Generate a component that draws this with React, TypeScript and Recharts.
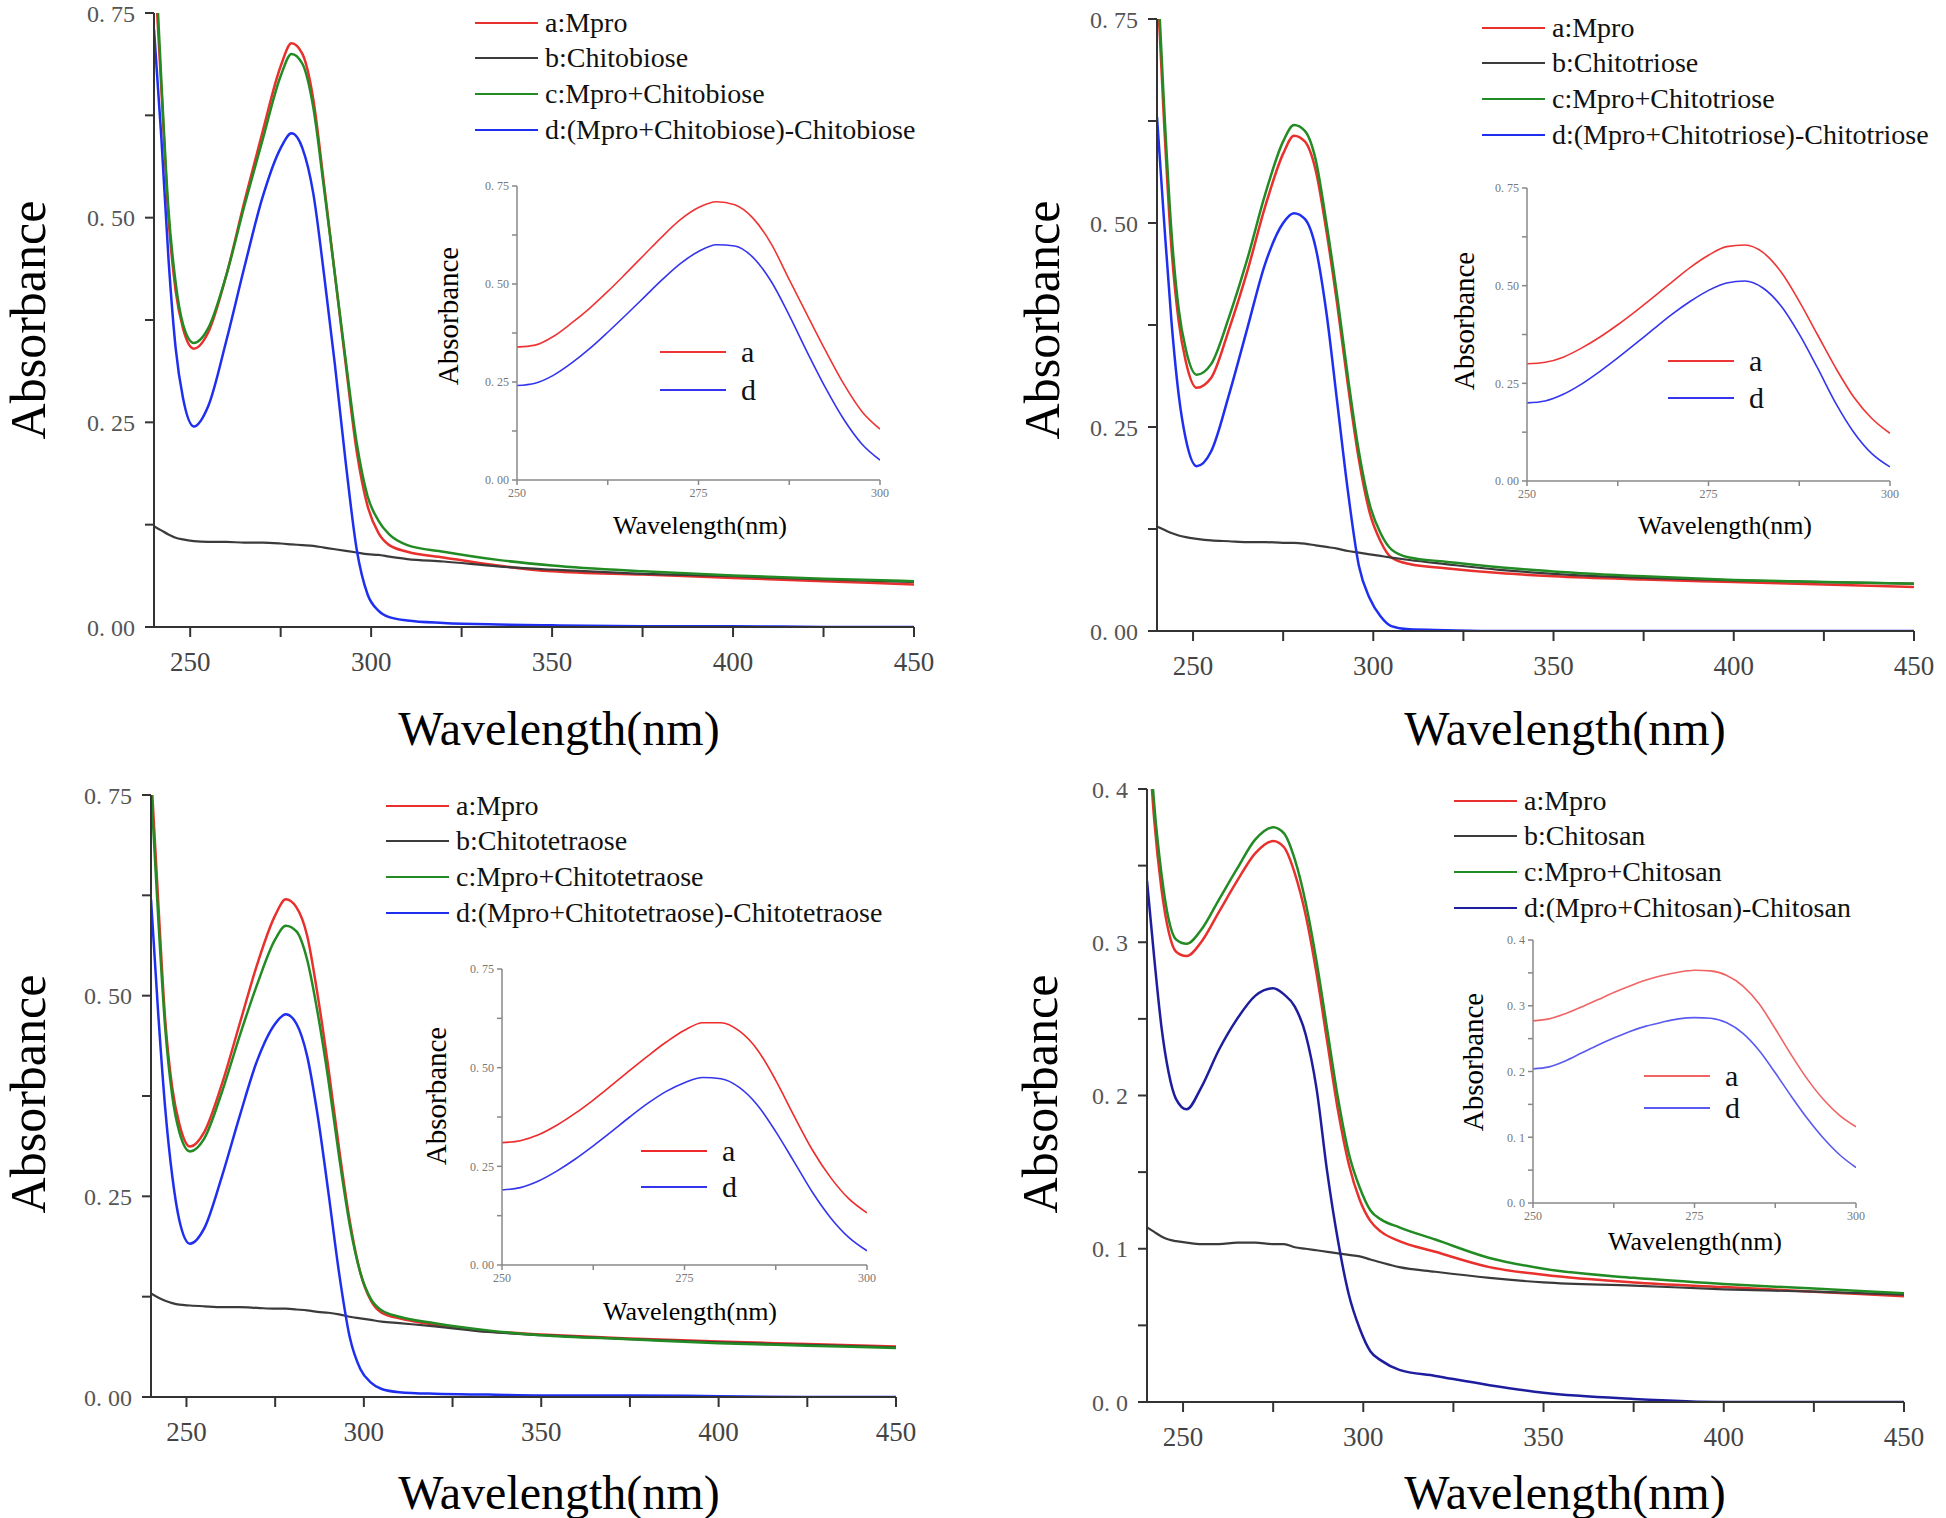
import React from 'react';
import { LineChart, Line, XAxis, YAxis, Legend } from 'recharts';

// wavelength grid (nm) shared by the main spectra
const wavelengths = [240, 242, 244, 246, 248, 251, 255, 260, 265, 270, 275, 278, 281, 284, 287, 290, 293, 296, 299, 302, 305, 310, 320, 335, 350, 375, 400, 425, 450];
// grid for the zoomed insets (250-300 nm)
const insetWavelengths = [250, 252.5, 255, 257.5, 260, 262.5, 265, 267.5, 270, 272.5, 275, 277.5, 280, 282.5, 285, 287.5, 290, 292.5, 295, 297.5, 300];

// Chitobiose
const bioseA = [0.82, 0.66, 0.5, 0.41, 0.365, 0.34, 0.36, 0.43, 0.52, 0.605, 0.685, 0.713, 0.7, 0.645, 0.54, 0.43, 0.32, 0.215, 0.148, 0.115, 0.1, 0.092, 0.085, 0.075, 0.068, 0.064, 0.06, 0.056, 0.052];
const bioseB = [0.123, 0.118, 0.113, 0.109, 0.107, 0.105, 0.104, 0.104, 0.103, 0.103, 0.102, 0.101, 0.1, 0.099, 0.097, 0.095, 0.093, 0.091, 0.089, 0.088, 0.086, 0.083, 0.08, 0.074, 0.07, 0.065, 0.062, 0.058, 0.055];
const bioseC = [0.85, 0.67, 0.51, 0.42, 0.37, 0.347, 0.365, 0.43, 0.515, 0.595, 0.673, 0.7, 0.688, 0.635, 0.535, 0.43, 0.325, 0.225, 0.16, 0.13, 0.113, 0.1, 0.092, 0.082, 0.075, 0.068, 0.063, 0.059, 0.056];
const bioseD = [0.73, 0.6, 0.45, 0.34, 0.28, 0.245, 0.27, 0.35, 0.44, 0.525, 0.585, 0.603, 0.585, 0.53, 0.43, 0.32, 0.2, 0.095, 0.04, 0.02, 0.012, 0.008, 0.005, 0.003, 0.002, 0.001, 0.001, 0, 0];
const bioseInsetA = [0.339, 0.344, 0.366, 0.4, 0.438, 0.481, 0.527, 0.574, 0.621, 0.664, 0.695, 0.71, 0.702, 0.668, 0.603, 0.511, 0.42, 0.33, 0.245, 0.175, 0.13];
const bioseInsetD = [0.241, 0.247, 0.267, 0.298, 0.335, 0.377, 0.421, 0.466, 0.511, 0.552, 0.583, 0.6, 0.597, 0.568, 0.507, 0.42, 0.325, 0.235, 0.155, 0.092, 0.051];

// Chitotriose
const trioseA = [0.8, 0.62, 0.47, 0.38, 0.33, 0.298, 0.31, 0.37, 0.44, 0.52, 0.585, 0.607, 0.6, 0.565, 0.49, 0.4, 0.3, 0.21, 0.145, 0.11, 0.09, 0.082, 0.077, 0.071, 0.067, 0.063, 0.06, 0.057, 0.054];
const trioseB = [0.128, 0.124, 0.12, 0.117, 0.115, 0.113, 0.111, 0.11, 0.109, 0.109, 0.108, 0.108, 0.107, 0.105, 0.103, 0.101, 0.098, 0.096, 0.094, 0.092, 0.09, 0.087, 0.082, 0.075, 0.07, 0.065, 0.062, 0.06, 0.058];
const trioseC = [0.82, 0.64, 0.49, 0.395, 0.345, 0.314, 0.327, 0.385, 0.455, 0.535, 0.6, 0.62, 0.613, 0.578, 0.5, 0.41, 0.31, 0.22, 0.155, 0.12, 0.1, 0.09, 0.085, 0.078, 0.073, 0.067, 0.0625, 0.06, 0.058];
const trioseD = [0.63, 0.5, 0.38, 0.29, 0.235, 0.202, 0.22, 0.29, 0.37, 0.45, 0.5, 0.512, 0.505, 0.47, 0.39, 0.28, 0.17, 0.08, 0.04, 0.018, 0.006, 0.002, 0.001, 0, 0, 0, 0, 0, 0];
const trioseInsetA = [0.3, 0.304, 0.317, 0.34, 0.368, 0.4, 0.435, 0.472, 0.51, 0.547, 0.578, 0.6, 0.604, 0.585, 0.535, 0.46, 0.375, 0.29, 0.215, 0.16, 0.122];
const trioseInsetD = [0.2, 0.205, 0.222, 0.248, 0.28, 0.315, 0.352, 0.39, 0.427, 0.46, 0.488, 0.507, 0.512, 0.494, 0.448, 0.376, 0.29, 0.2, 0.125, 0.07, 0.036];

// Chitotetraose
const tetraA = [0.78, 0.62, 0.47, 0.385, 0.34, 0.312, 0.33, 0.39, 0.465, 0.54, 0.6, 0.62, 0.61, 0.575, 0.5, 0.41, 0.31, 0.22, 0.155, 0.12, 0.105, 0.098, 0.09, 0.082, 0.078, 0.073, 0.069, 0.066, 0.063];
const tetraB = [0.129, 0.124, 0.12, 0.117, 0.115, 0.114, 0.113, 0.112, 0.112, 0.111, 0.11, 0.11, 0.109, 0.108, 0.106, 0.105, 0.103, 0.1, 0.098, 0.096, 0.094, 0.092, 0.088, 0.081, 0.077, 0.072, 0.068, 0.065, 0.062];
const tetraC = [0.76, 0.6, 0.46, 0.375, 0.33, 0.306, 0.322, 0.38, 0.45, 0.515, 0.57, 0.587, 0.58, 0.545, 0.478, 0.395, 0.3, 0.215, 0.155, 0.122, 0.108, 0.1, 0.092, 0.083, 0.077, 0.072, 0.067, 0.064, 0.061];
const tetraD = [0.62, 0.48, 0.36, 0.275, 0.22, 0.191, 0.21, 0.275, 0.35, 0.42, 0.465, 0.477, 0.465, 0.425, 0.35, 0.255, 0.155, 0.075, 0.035, 0.018, 0.01, 0.006, 0.004, 0.003, 0.002, 0.002, 0.001, 0, 0];
const tetraInsetA = [0.31, 0.315, 0.33, 0.354, 0.384, 0.418, 0.455, 0.493, 0.53, 0.565, 0.595, 0.614, 0.614, 0.593, 0.545, 0.468, 0.378, 0.292, 0.222, 0.168, 0.132];
const tetraInsetD = [0.19, 0.196, 0.213, 0.238, 0.268, 0.302, 0.338, 0.375, 0.41, 0.44, 0.462, 0.475, 0.472, 0.45, 0.405, 0.338, 0.262, 0.185, 0.12, 0.07, 0.036];

// Chitosan
const chitosanA = [0.45, 0.38, 0.335, 0.307, 0.294, 0.291, 0.3, 0.32, 0.34, 0.358, 0.366, 0.362, 0.345, 0.318, 0.28, 0.235, 0.19, 0.155, 0.132, 0.118, 0.111, 0.105, 0.098, 0.088, 0.083, 0.078, 0.075, 0.072, 0.069];
const chitosanB = [0.114, 0.111, 0.108, 0.106, 0.105, 0.104, 0.103, 0.103, 0.104, 0.104, 0.103, 0.103, 0.101, 0.1, 0.099, 0.098, 0.097, 0.096, 0.095, 0.093, 0.091, 0.088, 0.085, 0.081, 0.078, 0.076, 0.0735, 0.072, 0.07];
const chitosanC = [0.46, 0.39, 0.345, 0.315, 0.302, 0.299, 0.308, 0.328, 0.348, 0.367, 0.375, 0.371, 0.354, 0.326, 0.288, 0.243, 0.198, 0.162, 0.14, 0.125, 0.119, 0.114, 0.106, 0.094, 0.087, 0.081, 0.077, 0.074, 0.071];
const chitosanD = [0.34, 0.29, 0.245, 0.215, 0.198, 0.191, 0.205, 0.23, 0.25, 0.265, 0.27, 0.266, 0.258, 0.24, 0.205, 0.15, 0.105, 0.07, 0.048, 0.033, 0.027, 0.021, 0.017, 0.011, 0.006, 0.002, 0, 0, 0];
const chitosanInsetA = [0.277, 0.28, 0.288, 0.298, 0.309, 0.32, 0.33, 0.339, 0.346, 0.351, 0.354, 0.353, 0.346, 0.33, 0.303, 0.265, 0.225, 0.188, 0.157, 0.133, 0.116];
const chitosanInsetD = [0.204, 0.207, 0.216, 0.228, 0.24, 0.251, 0.261, 0.269, 0.275, 0.28, 0.282, 0.281, 0.274, 0.258, 0.232, 0.198, 0.162, 0.128, 0.098, 0.073, 0.054];

const sugars = ['Chitobiose', 'Chitotriose', 'Chitotetraose', 'Chitosan'];

// ticks
const mainXTicks = [250, 275, 300, 325, 350, 375, 400, 425, 450];
const insetXTicks = [250, 262.5, 275, 287.5, 300];
const yTicks075 = [0, 0.125, 0.25, 0.375, 0.5, 0.625, 0.75];
const yTicks04 = [0, 0.05, 0.1, 0.15, 0.2, 0.25, 0.3, 0.35, 0.4];

const SERIF = '"Liberation Serif", "Times New Roman", serif';

const fmtX = (v: number) => (v % 50 === 0 ? String(v) : '');
const fmtInsetX = (v: number) => (v % 25 === 0 ? String(v) : '');
const fmtY2 = (v: number) => (Math.abs(v * 4 - Math.round(v * 4)) < 1e-6 ? v.toFixed(2).replace('.', '. ') : '');
const fmtY1 = (v: number) => (Math.abs(v * 10 - Math.round(v * 10)) < 1e-6 ? v.toFixed(1).replace('.', '. ') : '');

const makeRows = (a: number[], b: number[], c: number[], d: number[]) =>
  wavelengths.map((w, i) => ({ w, a: a[i], b: b[i], c: c[i], d: d[i] }));
const makeInsetRows = (a: number[], d: number[]) => insetWavelengths.map((w, i) => ({ w, a: a[i], d: d[i] }));

const legendNames = (s: string) => ['a:Mpro', `b:${s}`, `c:Mpro+${s}`, `d:(Mpro+${s})-${s}`];

type Box = { x0: number; x1: number; y0: number; y1: number };

const panels = [
  {
    rows: makeRows(bioseA, bioseB, bioseC, bioseD), insetRows: makeInsetRows(bioseInsetA, bioseInsetD),
    sugar: sugars[0], yMax: 0.75, yTicks: yTicks075, fmtY: fmtY2,
    blue: '#1f2ff0', insetRed: '#ee3535', insetBlue: '#3535ee',
    plot: { x0: 154, x1: 914, y0: 13, y1: 627 }, legend: { x: 475, y: 5 },
    ytitle: { x: 28, y: 320 }, xtitle: { x: 559, y: 729 },
    inset: { x0: 517, x1: 880, y0: 186, y1: 480 }, insetLegend: { x: 660, y: 333, row: 38 },
    insetY: { x: 448, y: 316 }, insetX: { x: 700, y: 526 },
  },
  {
    rows: makeRows(trioseA, trioseB, trioseC, trioseD), insetRows: makeInsetRows(trioseInsetA, trioseInsetD),
    sugar: sugars[1], yMax: 0.75, yTicks: yTicks075, fmtY: fmtY2,
    blue: '#1f2ff0', insetRed: '#ee3535', insetBlue: '#3535ee',
    plot: { x0: 1157, x1: 1914, y0: 19, y1: 631 }, legend: { x: 1482, y: 10 },
    ytitle: { x: 1042, y: 320 }, xtitle: { x: 1565, y: 729 },
    inset: { x0: 1527, x1: 1890, y0: 188, y1: 481 }, insetLegend: { x: 1668, y: 342, row: 37 },
    insetY: { x: 1464, y: 321 }, insetX: { x: 1725, y: 526 },
  },
  {
    rows: makeRows(tetraA, tetraB, tetraC, tetraD), insetRows: makeInsetRows(tetraInsetA, tetraInsetD),
    sugar: sugars[2], yMax: 0.75, yTicks: yTicks075, fmtY: fmtY2,
    blue: '#1f2ff0', insetRed: '#ee2a2a', insetBlue: '#3535ee',
    plot: { x0: 151, x1: 896, y0: 795, y1: 1397 }, legend: { x: 386, y: 788 },
    ytitle: { x: 28, y: 1094 }, xtitle: { x: 559, y: 1493 },
    inset: { x0: 502, x1: 867, y0: 969, y1: 1265 }, insetLegend: { x: 641, y: 1133, row: 36 },
    insetY: { x: 436, y: 1096 }, insetX: { x: 690, y: 1312 },
  },
  {
    rows: makeRows(chitosanA, chitosanB, chitosanC, chitosanD), insetRows: makeInsetRows(chitosanInsetA, chitosanInsetD),
    sugar: sugars[3], yMax: 0.4, yTicks: yTicks04, fmtY: fmtY1,
    blue: '#1d1d9e', insetRed: '#f06464', insetBlue: '#5a5af0',
    plot: { x0: 1147, x1: 1904, y0: 789, y1: 1402 }, legend: { x: 1454, y: 783 },
    ytitle: { x: 1040, y: 1094 }, xtitle: { x: 1565, y: 1493 },
    inset: { x0: 1533, x1: 1856, y0: 940, y1: 1203 }, insetLegend: { x: 1644, y: 1060, row: 32 },
    insetY: { x: 1473, y: 1062 }, insetX: { x: 1695, y: 1242 },
  },
];

const RED = '#e8302c';
const BLACK = '#3b3b3b';
const GREEN = '#238b23';

const lineLegend = (rowH: number, lineW: number, gap: number, fontSize: number) => (props: any) => (
  <div style={{ fontFamily: SERIF, fontSize, color: '#111', whiteSpace: 'nowrap' }}>
    {(props.payload || []).map((e: any) => (
      <div key={e.value} style={{ display: 'flex', alignItems: 'center', height: rowH }}>
        <span style={{ display: 'inline-block', width: lineW, borderTop: `2.5px solid ${e.color}` }} />
        <span style={{ marginLeft: gap, lineHeight: 1 }}>{e.value}</span>
      </div>
    ))}
  </div>
);

const Title = ({ x, y, size, text, rotate }: { x: number; y: number; size: number; text: string; rotate?: boolean }) => (
  <div
    style={{
      position: 'absolute', left: x, top: y, fontFamily: SERIF, fontSize: size, lineHeight: 1, color: '#000',
      whiteSpace: 'nowrap', transform: `translate(-50%, -50%)${rotate ? ' rotate(-90deg)' : ''}`,
    }}
  >
    {text}
  </div>
);

function MainChart({ p }: { p: (typeof panels)[number] }) {
  const plot: Box = p.plot;
  const yw = 90, mt = 25, mr = 30, xh = 60;
  const left = plot.x0 - yw;
  const top = plot.y0 - mt;
  const width = plot.x1 - plot.x0 + yw + mr;
  const height = plot.y1 - plot.y0 + mt + xh;
  const names = legendNames(p.sugar);
  return (
    <div style={{ position: 'absolute', left, top }}>
      <LineChart width={width} height={height} data={p.rows} margin={{ top: mt, right: mr, left: 0, bottom: 0 }}>
        <XAxis
          dataKey="w" type="number" domain={[240, 450]} ticks={mainXTicks} interval={0} tickFormatter={fmtX}
          allowDataOverflow height={xh} stroke="#333" strokeWidth={2} tickSize={10} tickMargin={15}
          tick={{ fill: '#444', fontSize: 27, fontFamily: SERIF }}
        />
        <YAxis
          type="number" domain={[0, p.yMax]} ticks={p.yTicks} interval={0} tickFormatter={p.fmtY}
          allowDataOverflow width={yw} stroke="#333" strokeWidth={2} tickSize={9} tickMargin={10}
          tick={{ fill: '#555', fontSize: 24, fontFamily: SERIF }}
        />
        <Legend
          layout="vertical" align="center" verticalAlign="middle"
          wrapperStyle={{ left: p.legend.x - left, top: p.legend.y - top, width: 520 }}
          content={lineLegend(35.6, 63, 7, 28)}
        />
        <Line type="monotone" dataKey="a" name={names[0]} stroke={RED} strokeWidth={2.5} dot={false} isAnimationActive={false} />
        <Line type="monotone" dataKey="b" name={names[1]} stroke={BLACK} strokeWidth={2.2} dot={false} isAnimationActive={false} />
        <Line type="monotone" dataKey="c" name={names[2]} stroke={GREEN} strokeWidth={2.5} dot={false} isAnimationActive={false} />
        <Line type="monotone" dataKey="d" name={names[3]} stroke={p.blue} strokeWidth={2.5} dot={false} isAnimationActive={false} />
      </LineChart>
    </div>
  );
}

function InsetChart({ p }: { p: (typeof panels)[number] }) {
  const plot: Box = p.inset;
  const yw = 45, mt = 10, mr = 14, xh = 30;
  const left = plot.x0 - yw;
  const top = plot.y0 - mt;
  const width = plot.x1 - plot.x0 + yw + mr;
  const height = plot.y1 - plot.y0 + mt + xh;
  return (
    <div style={{ position: 'absolute', left, top }}>
      <LineChart width={width} height={height} data={p.insetRows} margin={{ top: mt, right: mr, left: 0, bottom: 0 }}>
        <XAxis
          dataKey="w" type="number" domain={[250, 300]} ticks={insetXTicks} interval={0} tickFormatter={fmtInsetX}
          allowDataOverflow height={xh} stroke="#888" strokeWidth={1.5} tickSize={5} tickMargin={3}
          tick={{ fill: '#777', fontSize: 12, fontFamily: SERIF }}
        />
        <YAxis
          type="number" domain={[0, p.yMax]} ticks={p.yTicks} interval={0} tickFormatter={p.fmtY}
          allowDataOverflow width={yw} stroke="#888" strokeWidth={1.5} tickSize={5} tickMargin={3}
          tick={{ fill: '#777', fontSize: 12, fontFamily: SERIF }}
        />
        <Legend
          layout="vertical" align="center" verticalAlign="middle"
          wrapperStyle={{ left: p.insetLegend.x - left, top: p.insetLegend.y - top, width: 120 }}
          content={lineLegend(p.insetLegend.row, 66, 15, 30)}
        />
        <Line type="monotone" dataKey="a" name="a" stroke={p.insetRed} strokeWidth={1.6} dot={false} isAnimationActive={false} />
        <Line type="monotone" dataKey="d" name="d" stroke={p.insetBlue} strokeWidth={1.6} dot={false} isAnimationActive={false} />
      </LineChart>
    </div>
  );
}

export default function App() {
  return (
    <div style={{ position: 'absolute', left: 0, top: 0, width: 1946, height: 1518, background: '#fff', overflow: 'hidden' }}>
      {panels.map((p, i) => (
        <React.Fragment key={i}>
          <MainChart p={p} />
          <InsetChart p={p} />
          <Title x={p.ytitle.x} y={p.ytitle.y} size={50} text="Absorbance" rotate />
          <Title x={p.xtitle.x} y={p.xtitle.y} size={48} text="Wavelength(nm)" />
          <Title x={p.insetY.x} y={p.insetY.y} size={29} text="Absorbance" rotate />
          <Title x={p.insetX.x} y={p.insetX.y} size={26} text="Wavelength(nm)" />
        </React.Fragment>
      ))}
    </div>
  );
}
